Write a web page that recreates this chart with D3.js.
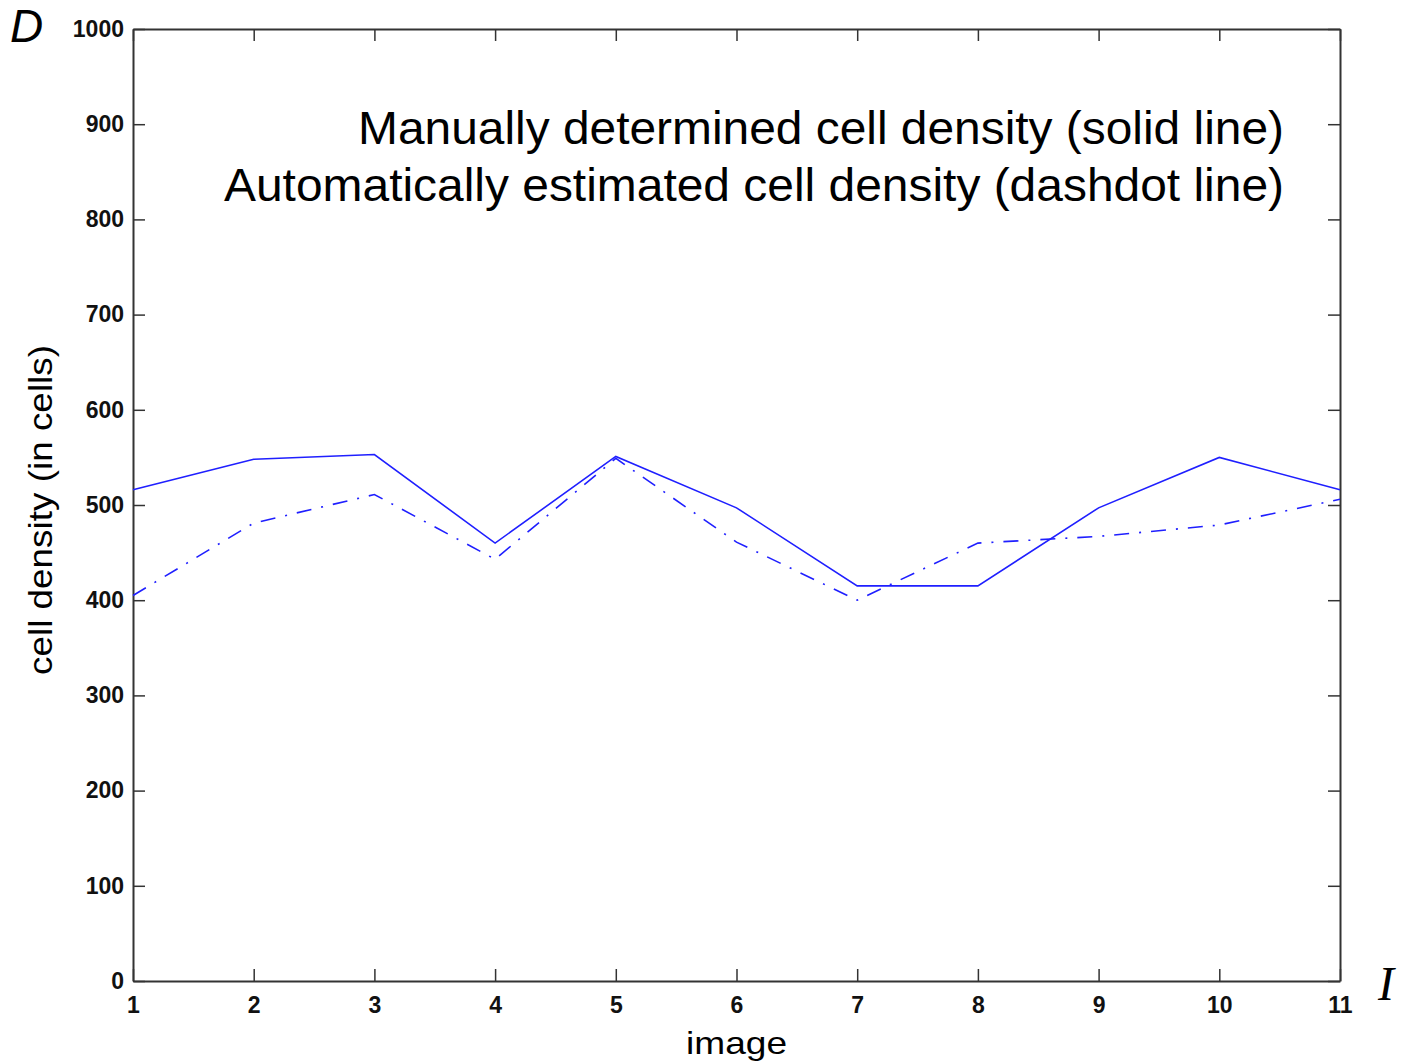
<!DOCTYPE html>
<html>
<head>
<meta charset="utf-8">
<script src="https://cdn.jsdelivr.net/npm/d3@7"></script>
<style>
    body { margin: 0; background: #fff; }
    svg { display: block; }
    .tick-label { font-family: "Liberation Sans", Arial, sans-serif; font-size: 23px; font-weight: bold; fill: #111; }
    .label { font-family: "Liberation Sans", Arial, sans-serif; fill: #000; }
</style>
</head>
<body>
<svg id="chart" width="1405" height="1063"></svg>
<script>
const images = [1, 2, 3, 4, 5, 6, 7, 8, 9, 10, 11];
const manualDensity = [516, 548, 553, 460, 551, 497, 415, 415, 497, 550, 516];
const autoDensity = [405, 481, 511, 443, 549, 461, 400, 460, 467, 479, 506];
const yTicks = [0, 100, 200, 300, 400, 500, 600, 700, 800, 900, 1000];
const annotations = [
    "Manually determined cell density (solid line)",
    "Automatically estimated cell density (dashdot line)"
];

window.addEventListener("DOMContentLoaded", draw);

function draw() {
    const svg = d3.select("#chart");
    const margin = { left: 133, top: 29, right: 65, bottom: 82 };
    const width = svg.attr("width") - margin.left - margin.right,
          height = svg.attr("height") - margin.top - margin.bottom;

    const chart = svg.append("g")
          .attr("transform", `translate(${margin.left},${margin.top})`);

    const x = d3.scaleLinear().domain([1, 11]).range([0, width]);
    const y = d3.scaleLinear().domain([0, 1000]).range([height, 0]);

    const tickLen = 12;

    // box with inward ticks on every side, like matlab
    const axes = [
	{ axis: d3.axisBottom(x).tickValues(images).tickPadding(16), pos: `translate(0,${height})`, labels: true, attr: "y2", inner: -tickLen },
	{ axis: d3.axisTop(x).tickValues(images), pos: "translate(0,0)", labels: false, attr: "y2", inner: tickLen },
	{ axis: d3.axisLeft(y).tickValues(yTicks).tickPadding(9), pos: "translate(0,0)", labels: true, attr: "x2", inner: tickLen },
	{ axis: d3.axisRight(y).tickValues(yTicks), pos: `translate(${width},0)`, labels: false, attr: "x2", inner: -tickLen }
    ];
    axes.forEach(function(a) {
	const g = chart.append("g")
	      .attr("transform", a.pos)
	      .call(a.axis.tickSize(0).tickSizeOuter(0).tickFormat(d3.format("d")));
	g.attr("font-size", null).attr("font-family", null);
	g.select(".domain").attr("stroke", "#333").attr("stroke-width", 2);
	g.selectAll(".tick line").remove();
	g.selectAll(".tick").append("line")
	    .attr("stroke", "#333").attr("stroke-width", 1.5)
	    .attr(a.attr, a.inner);
	if (a.labels) {
	    g.selectAll(".tick text").attr("class", "tick-label");
	} else {
	    g.selectAll(".tick text").remove();
	}
    });

    const line = d3.line()
	  .x((d, i) => x(images[i]))
	  .y((d) => y(d));

    chart.append("path")
	.attr("d", line(autoDensity))
	.attr("fill", "none")
	.attr("stroke", "#1f1fff")
	.attr("stroke-width", 1.6)
	.attr("stroke-dasharray", "15,10,2,10");

    chart.append("path")
	.attr("d", line(manualDensity))
	.attr("fill", "none")
	.attr("stroke", "#1f1fff")
	.attr("stroke-width", 1.6);

    // annotation in the upper right
    const noteWidths = [926, 1060];
    svg.selectAll(".note")
	.data(annotations)
	.enter().append("text")
	.attr("class", "note label")
	.attr("x", (d, i) => 1284 - noteWidths[i])
	.attr("y", (d, i) => 144 + i * 57)
	.attr("textLength", (d, i) => noteWidths[i])
	.attr("lengthAdjust", "spacingAndGlyphs")
	.style("font-size", "46px")
	.text((d) => d);

    svg.append("text")
	.attr("class", "label")
	.attr("transform", "translate(52,510) rotate(-90)")
	.attr("text-anchor", "middle")
	.attr("textLength", 330)
	.attr("lengthAdjust", "spacingAndGlyphs")
	.style("font-size", "33px")
	.text("cell density (in cells)");

    svg.append("text")
	.attr("class", "label")
	.attr("x", 686)
	.attr("y", 1054)
	.attr("textLength", 101)
	.attr("lengthAdjust", "spacingAndGlyphs")
	.style("font-size", "32px")
	.text("image");

    svg.append("text")
	.attr("class", "label")
	.attr("x", 10)
	.attr("y", 42)
	.style("font-style", "italic")
	.style("font-size", "46px")
	.text("D");

    svg.append("text")
	.attr("x", 1378)
	.attr("y", 1000)
	.style("font-family", "Liberation Serif, Times New Roman, serif")
	.style("font-style", "italic")
	.style("font-size", "48px")
	.text("I");
}
</script>
</body>
</html>
